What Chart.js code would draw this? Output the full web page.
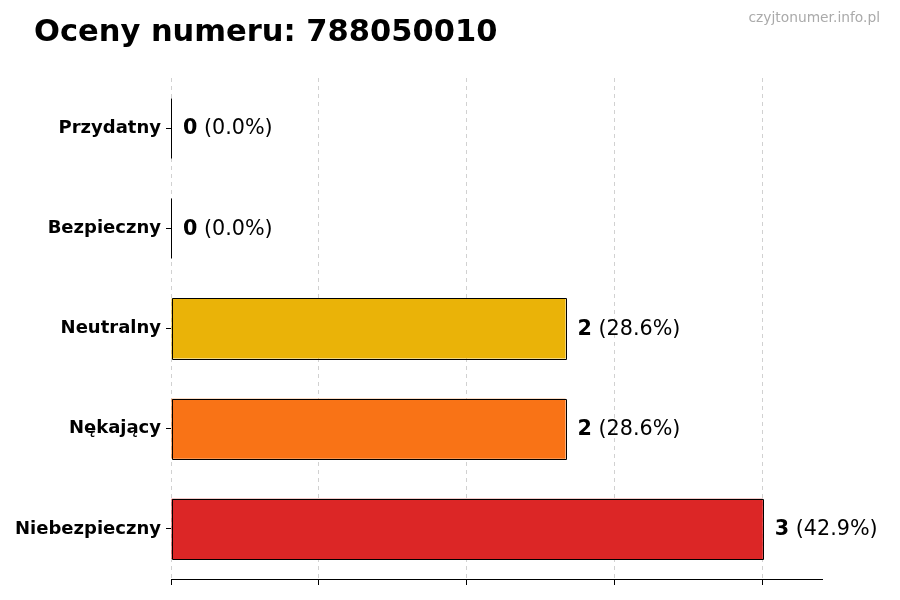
<!DOCTYPE html>
<html>
<head>
<meta charset="utf-8">
<script src="https://cdn.jsdelivr.net/npm/chart.js@4.4.1/dist/chart.umd.min.js"></script>
<style>
  body { margin: 0; background: #fff; }
  #wrap { position: relative; width: 900px; height: 600px; }
</style>
</head>
<body>
<div id="wrap"><canvas id="ratings-chart" width="900" height="600"></canvas></div>
<script>
// data
var categories = ["Przydatny", "Bezpieczny", "Neutralny", "Nękający", "Niebezpieczny"];
var counts = [0, 0, 2, 2, 3];
var barColors = ['#EAB308', '#EAB308', '#EAB308', '#F97316', '#DC2626'];
var xTicks = [0, 0.75, 1.5, 2.25, 3];
var xMax = 3.3;
var chartTitle = "Oceny numeru: 788050010";
var watermark = "czyjtonumer.info.pl";

var total = counts.reduce(function(a, b) { return a + b; }, 0);
var FONT = "'DejaVu Sans', sans-serif";

// crisp bar outlines, value labels, title and watermark
var decorations = {
	id: 'decorations',
	afterDatasetsDraw: function(chart) {
		var ctx = chart.ctx;
		var meta = chart.getDatasetMeta(0);
		ctx.save();
		meta.data.forEach(function(bar, i) {
			var v = counts[i];
			var x0 = Math.round(bar.base) + 0.5;
			var x1 = Math.round(bar.x) + 0.5;
			var y0 = Math.round(bar.y - bar.height / 2) + 0.5;
			var y1 = Math.round(bar.y + bar.height / 2) + 0.5;
			ctx.strokeStyle = '#000';
			ctx.lineWidth = 1;
			ctx.beginPath();
			if (v === 0) {
				ctx.moveTo(x0, y0);
				ctx.lineTo(x0, y1);
			} else {
				ctx.rect(x0, y0, x1 - x0, y1 - y0);
			}
			ctx.stroke();

			var x = bar.x + 12;
			ctx.textBaseline = 'middle';
			ctx.textAlign = 'left';
			ctx.fillStyle = '#000';
			ctx.font = "bold 20.7px " + FONT;
			var s1 = String(v);
			ctx.fillText(s1, x, bar.y + 1);
			var w = ctx.measureText(s1).width;
			ctx.font = "20.7px " + FONT;
			var pct = total ? (v / total * 100).toFixed(1) : '0.0';
			ctx.fillText(' (' + pct + '%)', x + w, bar.y + 1);
		});
		ctx.restore();
	},
	afterDraw: function(chart) {
		var ctx = chart.ctx;
		ctx.save();
		ctx.fillStyle = '#000';
		ctx.font = "bold 30.5px " + FONT;
		ctx.textBaseline = 'alphabetic';
		ctx.textAlign = 'left';
		ctx.fillText(chartTitle, 34, 41);
		ctx.fillStyle = '#aaaaaa';
		ctx.font = "13.8px " + FONT;
		ctx.textAlign = 'right';
		ctx.fillText(watermark, 880, 22);
		ctx.restore();
	}
};

var ctx = document.getElementById("ratings-chart").getContext('2d');
var myChart = new Chart(ctx, {
	type: 'bar',
	data: {
		labels: categories,
		datasets: [{
			data: counts,
			backgroundColor: barColors,
			borderWidth: 0,
			barPercentage: 0.6,
			categoryPercentage: 1.0
		}]
	},
	options: {
		indexAxis: 'y',
		responsive: false,
		animation: false,
		devicePixelRatio: 1,
		layout: { padding: { top: 78, right: 78, left: 0, bottom: 0 } },
		plugins: {
			legend: { display: false },
			tooltip: { enabled: false },
			title: { display: false }
		},
		scales: {
			x: {
				min: 0,
				max: xMax,
				z: 1,
				afterBuildTicks: function(scale) {
					scale.ticks = xTicks.map(function(v) { return { value: v }; });
				},
				afterFit: function(scale) { scale.height = 21; },
				ticks: { display: false },
				grid: {
					color: 'rgba(0,0,0,0.18)',
					tickColor: '#000',
					tickLength: 6,
					lineWidth: 1
				},
				border: { display: true, color: '#000', width: 1, dash: [4, 4] }
			},
			y: {
				afterFit: function(scale) { scale.width = 171; },
				grid: {
					offset: false,
					drawOnChartArea: false,
					drawTicks: true,
					tickLength: 5,
					tickColor: '#000'
				},
				border: { display: false },
				ticks: {
					color: '#000',
					padding: 5,
					font: { family: FONT, size: 18, weight: 'bold' }
				}
			}
		}
	},
	plugins: [decorations]
});
</script>
</body>
</html>
